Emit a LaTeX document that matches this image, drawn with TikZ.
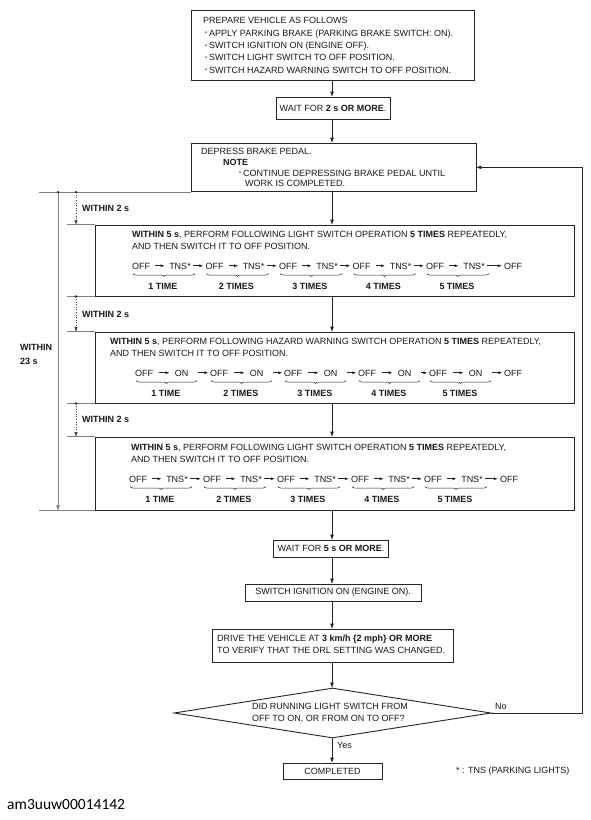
\documentclass[tikz,border=0pt]{standalone}
\usepackage{fontspec}
\setmainfont{Liberation Sans}
\newfontfamily\wmfont{Carlito}
\usetikzlibrary{arrows.meta,shapes.geometric,decorations.pathreplacing,calc}
\newcommand\bul{\raisebox{1.3pt}{\fontsize{5.5}{5.5}\selectfont •}\hspace{2pt}}
\begin{document}
\begin{tikzpicture}[x=1pt,y=-1pt,
  font=\fontsize{9}{12}\selectfont,
  every node/.style={text=black!90},
  mybox/.style={draw=black!85,line width=0.9pt,inner sep=0pt},
  myflow/.style={draw=black!85,line width=0.6pt,-{Triangle[length=5pt,width=3.4pt]}},
  myarr/.style={draw=black!85,line width=0.55pt,-{Triangle[length=3.4pt,width=2.6pt]}},
  mytxt/.style={anchor=base west,inner sep=0pt},
  mytok/.style={anchor=base,inner sep=0pt,text height=6.5pt,text depth=0pt},
  mylab/.style={anchor=west,inner sep=0pt},
  myguide/.style={draw=black!50,line width=0.5pt},
  mydot/.style={draw=black!75,line width=0.6pt,dotted,-{Triangle[length=4.5pt,width=3pt]}},
  mybrace/.style={draw=black!85,line width=0.5pt,decorate,decoration={brace,mirror,amplitude=3pt}},
]
\fill[white] (0,0) rectangle (590,820);
\useasboundingbox (0,0) rectangle (590,820);

\coordinate (mx) at (332,0);
\coordinate (fbx) at (582,0);
\coordinate (gl) at (39,0);
\coordinate (gs) at (67,0);
\coordinate (va) at (58,0);
\coordinate (vb) at (76,0);

% ---------- box 1
\node[mybox,minimum width=283pt,minimum height=70pt] (b1) at (332.5,45) {};
\node[mytxt] (b1t0) at (203,23.7) {PREPARE VEHICLE AS FOLLOWS};
\node[mytxt] (b1t1) at (205,36.2) {\bul APPLY PARKING BRAKE (PARKING BRAKE SWITCH: ON).};
\node[mytxt] (b1t2) at (205,48.6) {\bul SWITCH IGNITION ON (ENGINE OFF).};
\node[mytxt] (b1t3) at (205,60.9) {\bul SWITCH LIGHT SWITCH TO OFF POSITION.};
\node[mytxt] (b1t4) at (205,73.2) {\bul SWITCH HAZARD WARNING SWITCH TO OFF POSITION.};

% ---------- box 2
\node[mybox,minimum width=114pt,minimum height=22pt] (b2) at (333,108) {WAIT FOR \textbf{2 s OR MORE}.};

% ---------- box 3
\node[mybox,minimum width=285pt,minimum height=48.7pt] (b3) at (333.5,167.35) {};
\node[mytxt] (b3t0) at (201,154.3) {DEPRESS BRAKE PEDAL.};
\node[mytxt] (b3t1) at (223,165.2) {\textbf{NOTE}};
\node[mytxt] (b3t2) at (239,176.1) {\bul CONTINUE DEPRESSING BRAKE PEDAL UNTIL};
\node[mytxt] (b3t3) at (245,186.9) {WORK IS COMPLETED.};

% ---------- box 4
\node[mybox,minimum width=479pt,minimum height=71pt] (b4) at (334.5,260.5) {};
\node[mytxt] (b4t0) at (132,237.5) {\textbf{WITHIN 5 s}, PERFORM FOLLOWING LIGHT SWITCH OPERATION \textbf{5 TIMES} REPEATEDLY,};
\node[mytxt] (b4t1) at (132,249.5) {AND THEN SWITCH IT TO OFF POSITION.};
\foreach \i/\g/\t in {1/134/1 TIME,2/207.5/2 TIMES,3/281/3 TIMES,4/354.5/4 TIMES,5/428/5 TIMES}{
  \node[mytok] (pa\i) at (\g+7,269) {OFF};
  \node[mytok] (pb\i) at (\g+46,269) {TNS*};
  \draw[myarr,shorten <=5pt,shorten >=5pt] (pa\i) -- (pb\i);
  \draw[mybrace] (\g-1,273.5) -- (\g+61,273.5);
  \node[mytok] (pl\i) at (\g+29,289) {\textbf{\t}};
}
\node[mytok] (pa6) at (513,269) {OFF};
\foreach \i/\j in {1/2,2/3,3/4,4/5,5/6}
  \draw[myarr,shorten <=2.5pt,shorten >=2.5pt] (pb\i) -- (pa\j);

% ---------- box 5
\node[mybox,minimum width=479pt,minimum height=71pt] (b5) at (334.5,367.5) {};
\node[mytxt] (b5t0) at (110,344.5) {\textbf{WITHIN 5 s}, PERFORM FOLLOWING HAZARD WARNING SWITCH OPERATION \textbf{5 TIMES} REPEATEDLY,};
\node[mytxt] (b5t1) at (110,356.5) {AND THEN SWITCH IT TO OFF POSITION.};
\foreach \i/\g/\t in {1/136/1 TIME,2/211/2 TIMES,3/285/3 TIMES,4/359/4 TIMES,5/430/5 TIMES}{
  \node[mytok] (qa\i) at (\g+8,376) {OFF};
  \node[mytok] (qb\i) at (\g+45.5,376) {ON};
  \draw[myarr,shorten <=6pt,shorten >=5.5pt] (qa\i) -- (qb\i);
  \draw[mybrace] (\g,380.5) -- (\g+61,380.5);
  \node[mytok] (ql\i) at (\g+30,396) {\textbf{\t}};
}
\node[mytok] (qa6) at (513,376) {OFF};
\foreach \i/\j in {1/2,2/3,3/4,4/5,5/6}
  \draw[myarr,shorten <=10pt,shorten >=2pt] (qb\i) -- (qa\j);

% ---------- box 6
\node[mybox,minimum width=479pt,minimum height=73pt] (b6) at (334.5,473.5) {};
\node[mytxt] (b6t0) at (131,450.5) {\textbf{WITHIN 5 s}, PERFORM FOLLOWING LIGHT SWITCH OPERATION \textbf{5 TIMES} REPEATEDLY,};
\node[mytxt] (b6t1) at (131,462.5) {AND THEN SWITCH IT TO OFF POSITION.};
\foreach \i/\g/\t in {1/131/1 TIME,2/205/2 TIMES,3/279/3 TIMES,4/353/4 TIMES,5/426/5 TIMES}{
  \node[mytok] (sa\i) at (\g+7,482) {OFF};
  \node[mytok] (sb\i) at (\g+46,482) {TNS*};
  \draw[myarr,shorten <=5pt,shorten >=5pt] (sa\i) -- (sb\i);
  \draw[mybrace] (\g-1,486.5) -- (\g+61,486.5);
  \node[mytok] (sl\i) at (\g+29,502) {\textbf{\t}};
}
\node[mytok] (sa6) at (509,482) {OFF};
\foreach \i/\j in {1/2,2/3,3/4,4/5,5/6}
  \draw[myarr,shorten <=2.5pt,shorten >=2.5pt] (sb\i) -- (sa\j);

% ---------- lower boxes
\node[mybox,minimum width=115pt,minimum height=17pt] (b7) at (331,548.5) {WAIT FOR \textbf{5 s OR MORE}.};
\node[mybox,minimum width=176pt,minimum height=17pt] (b8) at (333,592.5) {SWITCH IGNITION ON (ENGINE ON).};
\node[mybox,minimum width=241pt,minimum height=33pt] (b9) at (332.5,645.5) {};
\node[mytxt] (b9t0) at (217,641.3) {DRIVE THE VEHICLE AT \textbf{3 km/h \{2 mph\} OR MORE}};
\node[mytxt] (b9t1) at (217,653.3) {TO VERIFY THAT THE DRL SETTING WAS CHANGED.};
\node[draw=black!85,line width=0.9pt,diamond,minimum width=317pt,minimum height=50pt,inner sep=0pt] (dia) at (332.5,713) {};
\node[align=left,inner sep=0pt] (diat) at (330,713) {DID RUNNING LIGHT SWITCH FROM\\OFF TO ON, OR FROM ON TO OFF?};
\node[mybox,minimum width=99pt,minimum height=16pt] (b10) at (332.5,771) {COMPLETED};

% ---------- main flow
\draw[myflow] (b1.south -| mx) -- (b2.north -| mx);
\draw[myflow] (b2.south -| mx) -- (b3.north -| mx);
\draw[myflow] (b3.south -| mx) -- (b4.north -| mx);
\draw[myflow] (b4.south -| mx) -- (b5.north -| mx);
\draw[myflow] (b5.south -| mx) -- (b6.north -| mx);
\draw[myflow] (b6.south -| mx) -- (b7.north -| mx);
\draw[myflow] (b7.south -| mx) -- (b8.north -| mx);
\draw[myflow] (b8.south -| mx) -- (b9.north -| mx);
\draw[myflow] (b9.south -| mx) -- (dia.north -| mx);
\draw[myflow] (dia.south -| mx) -- (b10.north -| mx);
\node[mylab] (yes) at (337,745) {Yes};
\draw[myflow] (dia.east) -- (dia.east -| fbx) |- (b3.east);
\node[mylab] (no) at (495,706) {No};

% ---------- left timing marks
\draw[myguide] (b3.south west -| gl) -- (b3.south west);
\draw[myguide] (b4.north west -| gs) -- (b4.north west);
\draw[myguide] (b4.south west -| gs) -- (b4.south west);
\draw[myguide] (b5.north west -| gs) -- (b5.north west);
\draw[myguide] (b5.south west -| gs) -- (b5.south west);
\draw[myguide] (b6.north west -| gs) -- (b6.north west);
\draw[myguide] (b6.south west -| gl) -- (b6.south west);
\draw[myguide,-{Triangle[length=5pt,width=3.4pt]}] (b3.south west -| va) -- (b6.south west -| va);
\draw[mydot] (b3.south west -| vb) -- (b4.north west -| vb);
\draw[mydot] (b4.south west -| vb) -- (b5.north west -| vb);
\draw[mydot] (b5.south west -| vb) -- (b6.north west -| vb);
\fill[black!85] (b3.south west -| va) circle (1.3pt);
\fill[black!85] (b3.south west -| vb) circle (1.3pt);
\fill[black!85] (b4.south west -| vb) circle (1.3pt);
\fill[black!85] (b5.south west -| vb) circle (1.3pt);
\node[mylab] (w1) at (82,208) {\textbf{WITHIN 2 s}};
\node[mylab] (w2) at (82,314) {\textbf{WITHIN 2 s}};
\node[mylab] (w3) at (82,419) {\textbf{WITHIN 2 s}};
\node[mylab] (w4) at (20,347) {\textbf{WITHIN}};
\node[mylab] (w5) at (20,361) {\textbf{23 s}};

% ---------- notes
\node[mylab] (fn) at (456,771) {* : TNS (PARKING LIGHTS)};
\node[mylab,font=\wmfont\fontsize{15.5}{18}\selectfont,text=black] (wm) at (7,805) {am3uuw00014142};
\end{tikzpicture}
\end{document}
